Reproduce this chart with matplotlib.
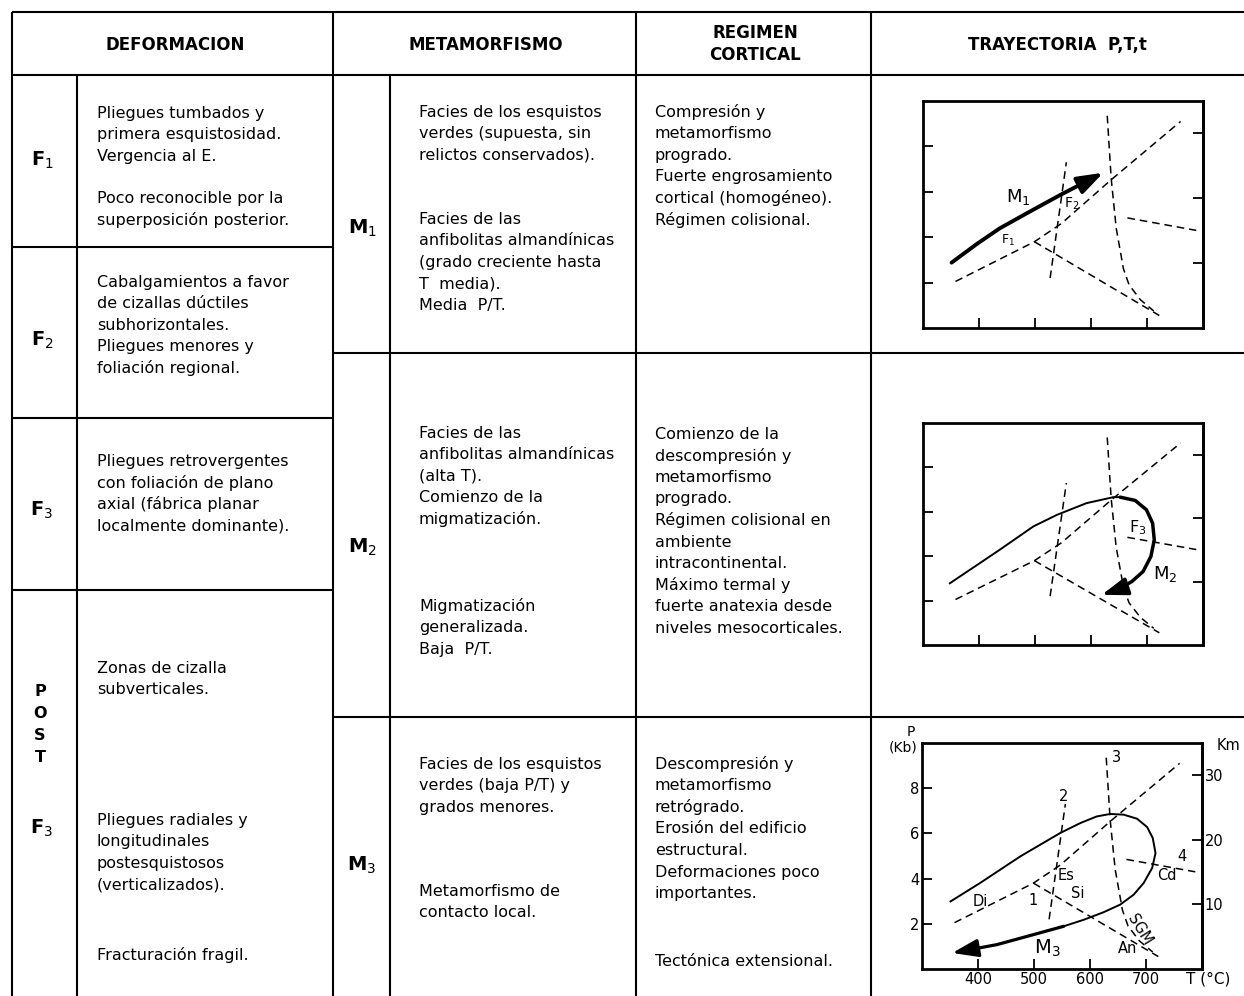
import matplotlib
matplotlib.use("Agg")
import matplotlib.pyplot as plt
from matplotlib.patches import FancyArrowPatch
from matplotlib.path import Path

plt.rcParams['font.family'] = ['DejaVu Sans']
plt.rcParams['mathtext.fontset'] = 'dejavusans'

# ---------------- table content ----------------
headers = ["DEFORMACION", "METAMORFISMO", "REGIMEN\nCORTICAL", "TRAYECTORIA  P,T,t"]
deform_labels = ["F$_1$", "F$_2$", "F$_3$", "F$_3$"]
post_letters = ["P", "O", "S", "T"]
meta_labels = ["M$_1$", "M$_2$", "M$_3$"]

f1_text_a = ["Pliegues tumbados y", "primera esquistosidad.", "Vergencia al E."]
f1_text_b = ["Poco reconocible por la", "superposición posterior."]
f2_text = ["Cabalgamientos a favor", "de cizallas dúctiles", "subhorizontales.",
           "Pliegues menores y", "foliación regional."]
f3_text = ["Pliegues retrovergentes", "con foliación de plano",
           "axial (fábrica planar", "localmente dominante)."]
post_text_a = ["Zonas de cizalla", "subverticales."]
post_text_b = ["Pliegues radiales y", "longitudinales", "postesquistosos", "(verticalizados)."]
post_text_c = ["Fracturación fragil."]

m1_text_a = ["Facies de los esquistos", "verdes (supuesta, sin", "relictos conservados)."]
m1_text_b = ["Facies de las", "anfibolitas almandínicas", "(grado creciente hasta",
             "T  media).", "Media  P/T."]
m2_text_a = ["Facies de las", "anfibolitas almandínicas", "(alta T).",
             "Comienzo de la", "migmatización."]
m2_text_b = ["Migmatización", "generalizada.", "Baja  P/T."]
m3_text_a = ["Facies de los esquistos", "verdes (baja P/T) y", "grados menores."]
m3_text_b = ["Metamorfismo de", "contacto local."]

r1_text = ["Compresión y", "metamorfismo", "progrado.", "Fuerte engrosamiento",
           "cortical (homogéneo).", "Régimen colisional."]
r2_text = ["Comienzo de la", "descompresión y", "metamorfismo", "progrado.",
           "Régimen colisional en", "ambiente", "intracontinental.", "Máximo termal y",
           "fuerte anatexia desde", "niveles mesocorticales."]
r3_text_a = ["Descompresión y", "metamorfismo", "retrógrado.", "Erosión del edificio",
             "estructural.", "Deformaciones poco", "importantes."]
r3_text_b = ["Tectónica extensional."]

# ---------------- P-T grid data (T in ºC, P in kb) ----------------
T_ticks = [400, 500, 600, 700]
P_ticks = [2, 4, 6, 8]
Km_ticks = [10, 20, 30]
KM_PER_KB = 3.5

line1_T = [358, 499, 547, 637, 760]
line1_P = [2.05, 3.8, 4.6, 6.55, 9.1]
line1b_T = [499, 722]
line1b_P = [3.8, 0.55]
line2_T = [527, 556]
line2_P = [2.2, 7.3]
line3_T = [629, 636, 645, 658, 668, 688, 712]
line3_P = [9.35, 6.6, 4.4, 2.6, 1.9, 1.25, 0.75]
line4_T = [665, 788]
line4_P = [4.85, 4.3]

# M1 path (prograde)
m1_T = [351, 396, 437, 485, 545, 622]
m1_P = [2.88, 3.70, 4.39, 5.05, 5.86, 6.84]

# M2 path
m2_thin_T = [348, 437, 497, 539, 592, 640, 652]
m2_thin_P = [2.78, 4.29, 5.34, 5.86, 6.39, 6.66, 6.66]
m2_thick_T = [652, 679, 699, 710, 713, 707, 693, 673, 649, 619]
m2_thick_P = [6.66, 6.51, 6.09, 5.49, 4.74, 3.99, 3.31, 2.86, 2.51, 2.26]

# M3 path
m3_thin_T = [351, 404, 476, 547, 583, 612, 636, 660, 684, 702, 712, 717, 711, 696,
             678, 654, 624, 589, 553]
m3_thin_P = [2.99, 3.81, 4.99, 6.02, 6.46, 6.75, 6.86, 6.83, 6.65, 6.28, 5.80, 5.13,
             4.47, 3.81, 3.29, 2.85, 2.51, 2.18, 1.89]
m3_thick_T = [553, 493, 434, 354]
m3_thick_P = [1.89, 1.48, 1.08, 0.71]

# ---------------- figure ----------------
W, H = 1244, 996
fig = plt.figure(figsize=(12.44, 9.96), dpi=100)
bg = fig.add_axes([0, 0, 1, 1])
bg.set_xlim(0, W)
bg.set_ylim(H, 0)
bg.axis('off')

LW = 1.5
def hline(y, x0, x1):
    bg.plot([x0, x1], [y, y], color='black', lw=LW, solid_capstyle='butt')
def vline(x, y0, y1):
    bg.plot([x, x], [y0, y1], color='black', lw=LW, solid_capstyle='butt')

hline(12, 12, W)
hline(75, 12, W)
for x in [12, 333, 636, 871]:
    vline(x, 12, H)
for x in [77, 390]:
    vline(x, 75, H)
for y in [247, 418, 590]:
    hline(y, 12, 333)
for y in [353, 717]:
    hline(y, 333, W)

# headers
hdr_kw = dict(ha='center', va='center', fontsize=12, fontweight='bold')
bg.text(175, 45, headers[0], **hdr_kw)
bg.text(486, 45, headers[1], **hdr_kw)
bg.text(755, 44, headers[2], linespacing=1.3, **hdr_kw)
bg.text(1057, 45, headers[3], **hdr_kw)

PITCH = 21.6
FS = 11.5
def block(x, y0, lines):
    for i, s in enumerate(lines):
        bg.text(x, y0 + i * PITCH, s, ha='left', va='center', fontsize=FS)

lab_kw = dict(ha='center', va='center', fontsize=14, fontweight='bold')
bg.text(42, 160, deform_labels[0], **lab_kw)
bg.text(42, 340, deform_labels[1], **lab_kw)
bg.text(42, 510, deform_labels[2], **lab_kw)
for i, ch in enumerate(post_letters):
    bg.text(40, 691 + i * 22, ch, ha='center', va='center', fontsize=11.5, fontweight='bold')
bg.text(42, 828, deform_labels[3], **lab_kw)

bg.text(362, 228, meta_labels[0], **lab_kw)
bg.text(362, 547, meta_labels[1], **lab_kw)
bg.text(362, 865, meta_labels[2], **lab_kw)

XD, XM, XR = 97, 419, 655
block(XD, 113, f1_text_a)
block(XD, 198, f1_text_b)
block(XD, 282, f2_text)
block(XD, 461, f3_text)
block(XD, 668, post_text_a)
block(XD, 820, post_text_b)
block(XD, 955, post_text_c)

block(XM, 112, m1_text_a)
block(XM, 219, m1_text_b)
block(XM, 433, m2_text_a)
block(XM, 606, m2_text_b)
block(XM, 764, m3_text_a)
block(XM, 891, m3_text_b)

block(XR, 112, r1_text)
block(XR, 434, r2_text)
block(XR, 764, r3_text_a)
block(XR, 961, r3_text_b)

# ---------------- P-T diagrams ----------------
DASH = (0, (5, 3.2))
def pt_axes(left, top, right, bottom, labels=False):
    ax = fig.add_axes([left / W, 1 - bottom / H, (right - left) / W, (bottom - top) / H])
    ax.set_facecolor('none')
    ax.set_xlim(300, 800)
    ax.set_ylim(0, 10)
    ax.set_xticks(T_ticks)
    ax.set_yticks(P_ticks)
    ax.tick_params(direction='in', length=7, width=1.3, labelsize=10.5, pad=2,
                   labelbottom=labels, labelleft=labels, top=False, right=False)
    for s in ax.spines.values():
        s.set_linewidth(2.0)
    sec = ax.secondary_yaxis('right', functions=(lambda p: p * KM_PER_KB,
                                                  lambda k: k / KM_PER_KB))
    sec.set_yticks(Km_ticks)
    sec.tick_params(direction='in', length=7, width=1.3, labelsize=10.5, pad=2,
                    labelright=labels)
    sec.spines['right'].set_linewidth(2.0)
    for tx, px in [(line1_T, line1_P), (line1b_T, line1b_P), (line2_T, line2_P),
                   (line3_T, line3_P), (line4_T, line4_P)]:
        ax.plot(tx, px, color='black', lw=1.1, ls=DASH)
    return ax

def arrow_path(ax, T, P, lw):
    arr = FancyArrowPatch(path=Path(list(zip(T, P))),
                          arrowstyle='-|>,head_length=1.3,head_width=0.45',
                          mutation_scale=12, lw=lw, color='black', fc='black',
                          shrinkA=0, shrinkB=0, joinstyle='round', capstyle='round')
    ax.add_patch(arr)

# Diagram 1
ax1 = pt_axes(923, 101, 1203, 328)
arrow_path(ax1, m1_T, m1_P, 2.8)
ax1.text(470, 5.75, "M$_1$", ha='center', va='center', fontsize=13)
ax1.text(566, 5.45, "F$_2$", ha='center', va='center', fontsize=10)
ax1.text(452, 3.85, "F$_1$", ha='center', va='center', fontsize=9)

# Diagram 2
ax2 = pt_axes(923, 423, 1203, 645)
ax2.plot(m2_thin_T, m2_thin_P, color='black', lw=1.4, solid_joinstyle='round')
arrow_path(ax2, m2_thick_T, m2_thick_P, 2.5)
ax2.text(683, 5.3, "F$_3$", ha='center', va='center', fontsize=11.5)
ax2.text(733, 3.2, "M$_2$", ha='center', va='center', fontsize=13)

# Diagram 3
ax3 = pt_axes(922, 743, 1202, 969, labels=True)
ax3.plot(m3_thin_T, m3_thin_P, color='black', lw=1.4, solid_joinstyle='round')
arrow_path(ax3, m3_thick_T, m3_thick_P, 2.3)
lbl = dict(ha='center', va='center', fontsize=10.5)
ax3.text(404, 3.0, "Di", **lbl)
ax3.text(498, 3.05, "1", **lbl)
ax3.text(557, 4.15, "Es", **lbl)
ax3.text(578, 3.33, "Si", **lbl)
ax3.text(553, 7.65, "2", **lbl)
ax3.text(647, 9.35, "3", **lbl)
ax3.text(764, 5.0, "4", **lbl)
ax3.text(738, 4.15, "Cd", **lbl)
ax3.text(688, 1.75, "SGM", rotation=-58, **lbl)
ax3.text(667, 0.92, "An", **lbl)
ax3.text(523, 0.92, "M$_3$", ha='center', va='center', fontsize=14)

bg.text(911, 732, "P", ha='center', va='center', fontsize=10)
bg.text(903, 747, "(Kb)", ha='center', va='center', fontsize=10)
bg.text(1228, 745, "Km", ha='center', va='center', fontsize=10.5)
bg.text(1208, 979, "T (°C)", ha='center', va='center', fontsize=11)

fig.savefig("out.png", dpi=100)
